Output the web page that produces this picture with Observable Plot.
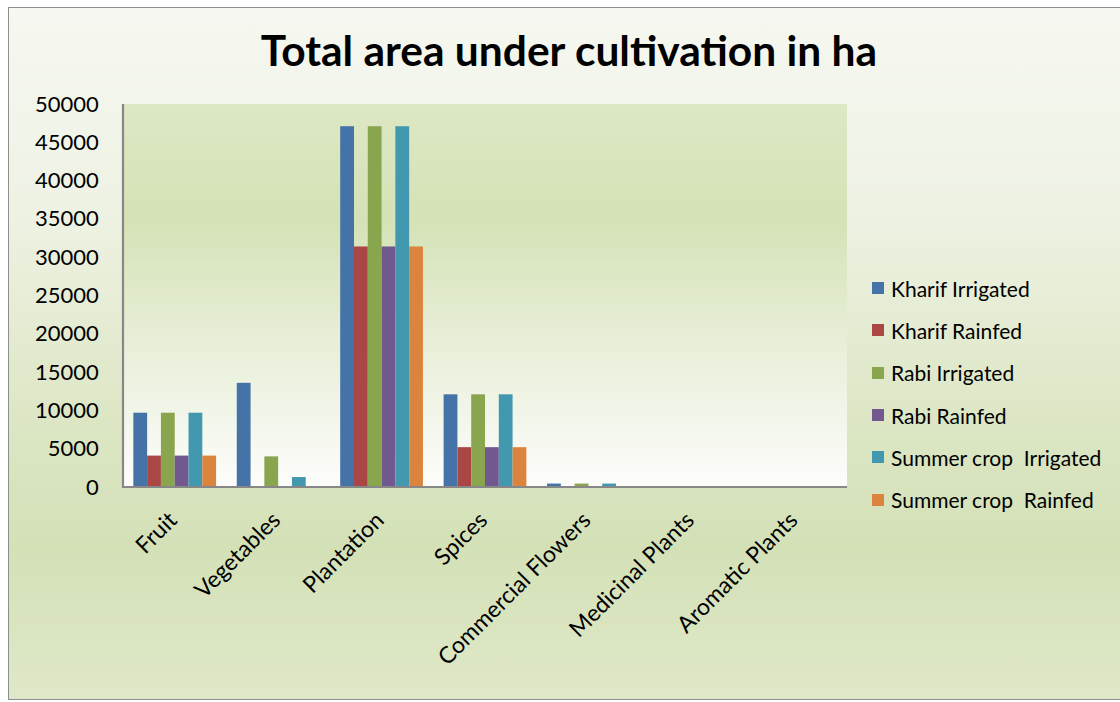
<!DOCTYPE html>
<html>
<head>
<meta charset="utf-8">
<script src="https://cdn.jsdelivr.net/npm/d3@7"></script>
<script src="https://cdn.jsdelivr.net/npm/@observablehq/plot@0.6"></script>
<style>
  html, body { margin: 0; padding: 0; background: #ffffff; }
  #chart { position: relative; width: 1120px; height: 702px; overflow: hidden; font-family: Lato, "Open Sans", sans-serif; }
  #bg { position: absolute; left: 8px; top: 7px; width: 1112px; height: 693px; box-sizing: border-box;
        border: 1px solid #8e8e8e; border-right: none;
        background: linear-gradient(to bottom, #f6f8f1 0%, #eef2e3 30%, #dce6c4 60%, #d4e1b7 78%, #dfe8c8 100%); }
  #title { position: absolute; left: 0; width: 1138px; top: 24px; text-align: center; font-weight: 700; font-size: 42.5px; color: #000; }
  #plot { position: absolute; left: 0; top: 0; }
  #legend { position: absolute; left: 872px; top: 267px; font-size: 21px; color: #000; }
  .item { height: 42.3px; display: flex; align-items: center; white-space: pre; }
  .sw { width: 12px; height: 12px; margin-right: 7px; }
</style>
</head>
<body>
<div id="chart">
  <div id="bg"></div>
  <div id="title">Total area under cultivation in ha</div>
  <div id="plot"></div>
  <div id="legend"></div>
</div>
<script>
const categories = ["Fruit", "Vegetables", "Plantation", "Spices", "Commercial Flowers", "Medicinal Plants", "Aromatic Plants"];
const seriesNames = ["Kharif Irrigated", "Kharif Rainfed", "Rabi Irrigated", "Rabi Rainfed", "Summer crop  Irrigated", "Summer crop  Rainfed"];
const kharifIrrigated = [9700, 13600, 47100, 12100, 450, 0, 0];
const kharifRainfed   = [4100, 0, 31400, 5200, 0, 0, 0];
const rabiIrrigated   = [9700, 4000, 47100, 12100, 450, 0, 0];
const rabiRainfed     = [4100, 0, 31400, 5200, 0, 0, 0];
const summerIrrigated = [9700, 1300, 47100, 12100, 450, 0, 0];
const summerRainfed   = [4100, 0, 31400, 5200, 0, 0, 0];
const seriesColors = ["#4572A7", "#AA4643", "#89A54E", "#71588F", "#4198AF", "#DB843D"];
const yTicks = [0, 5000, 10000, 15000, 20000, 25000, 30000, 35000, 40000, 45000, 50000];

const seriesValues = [kharifIrrigated, kharifRainfed, rabiIrrigated, rabiRainfed, summerIrrigated, summerRainfed];
const data = [];
categories.forEach((c, ci) => {
  seriesNames.forEach((s, si) => {
    data.push({category: c, series: s, value: seriesValues[si][ci]});
  });
});

const W = 1120, H = 702;
const mL = 123, mR = 273, mT = 104, mB = 215;

const plot = Plot.plot({
  width: W,
  height: H,
  marginLeft: mL,
  marginRight: mR,
  marginTop: mT,
  marginBottom: mB,
  style: {background: "transparent", fontFamily: "Lato, 'Open Sans', sans-serif", overflow: "visible"},
  fx: {domain: categories, paddingInner: 0.2, paddingOuter: 0.1, round: false, label: null},
  x: {domain: seriesNames, padding: 0, round: false, axis: null},
  y: {domain: [0, 50000], ticks: yTicks, label: null},
  color: {domain: seriesNames, range: seriesColors},
  marks: [
    Plot.barY(data, {fx: "category", x: "series", y: "value", fill: "series", inset: 0}),
    Plot.axisY({ticks: yTicks, tickFormat: d => String(d), tickSize: 0, tickPadding: 35,
      fontSize: 22, fill: "#000", label: null}),
    Plot.axisFx({anchor: "bottom", tickRotate: -45, tickSize: 0, tickPadding: 12, fontSize: 23, fill: "#000", label: null, dx: -2, dy: 17})
  ]
});
document.getElementById("plot").appendChild(plot);

// Plot-area gradient and axis lines, positioned by the plot's own y scale
const svg = d3.select(plot);
const yS = plot.scale("y");
const yTop = yS.apply(50000), yBot = yS.apply(0);
const defs = svg.insert("defs", ":first-child");
const g = defs.append("linearGradient").attr("id", "pa").attr("x1", 0).attr("y1", 0).attr("x2", 0).attr("y2", 1);
g.append("stop").attr("offset", "0%").attr("stop-color", "#dde8c4");
g.append("stop").attr("offset", "30%").attr("stop-color", "#d5e2b6");
g.append("stop").attr("offset", "60%").attr("stop-color", "#e6eed6");
g.append("stop").attr("offset", "100%").attr("stop-color", "#fdfdfb");
svg.insert("rect", "defs + *")
  .attr("x", mL).attr("y", yTop).attr("width", W - mL - mR).attr("height", yBot - yTop)
  .attr("fill", "url(#pa)");
svg.append("line").attr("x1", mL).attr("x2", mL).attr("y1", yTop).attr("y2", yBot + 1)
  .attr("stroke", "#878787").attr("stroke-width", 2.2);
svg.append("line").attr("x1", mL - 1).attr("x2", W - mR).attr("y1", yBot).attr("y2", yBot)
  .attr("stroke", "#878787").attr("stroke-width", 2.2);

// Legend
const legend = document.getElementById("legend");
seriesNames.forEach((s, i) => {
  const item = document.createElement("div");
  item.className = "item";
  const sw = document.createElement("span");
  sw.className = "sw";
  sw.style.background = seriesColors[i];
  const t = document.createElement("span");
  t.textContent = s;
  item.appendChild(sw);
  item.appendChild(t);
  legend.appendChild(item);
});
</script>
</body>
</html>
